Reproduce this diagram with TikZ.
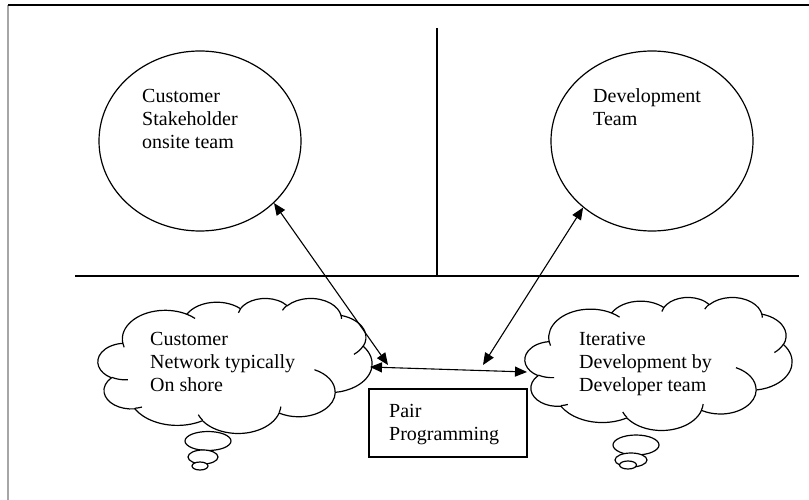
\documentclass[tikz,border=0pt]{standalone}
\usepackage{fontspec}
\setmainfont{Liberation Serif}
\usetikzlibrary{arrows.meta,shapes.geometric}

% One elliptic arc of the cloud outline: radii wR, hR, visual start angle
% and sweep (degrees, clockwise on screen); converted to parametric angles.
\newcommand\cloudarc[4]{arc[x radius=#1, y radius=#2,
  start angle={atan2(#1*sin(#3),#2*cos(#3))},
  delta angle={mod(atan2(#1*sin(#3+#4),#2*cos(#3+#4))-atan2(#1*sin(#3),#2*cos(#3))+720,360)}]}

% Cloud outline in a 43.2 x 43.2 box (y downwards)
\newcommand\cloudoutline{(3.900,14.370)
  \cloudarc{6.753}{9.190}{-190.4875}{123.7805}
  \cloudarc{5.333}{7.267}{-144.1024}{89.9452}
  \cloudarc{4.365}{5.945}{-145.8079}{99.7230}
  \cloudarc{4.857}{6.595}{-130.9861}{117.2417}
  \cloudarc{5.333}{7.273}{-78.7089}{109.0269}
  \cloudarc{6.775}{9.220}{-46.2673}{130.2690}
  \cloudarc{5.785}{7.867}{0.6250}{114.0333}
  \cloudarc{6.752}{9.215}{22.4516}{115.1726}
  \cloudarc{7.720}{10.543}{66.2426}{75.7110}
  \cloudarc{4.360}{5.918}{-274.9421}{146.7356}
  \cloudarc{4.345}{5.945}{-246.8285}{152.5189}
  -- cycle}

% Short creases where the puffs meet
\newcommand\cloudcreases{%
  (4.693,26.177) \cloudarc{4.345}{5.945}{86.7420}{26.4295}
  (6.928,34.899) \cloudarc{4.360}{5.918}{73.6105}{11.4475}
  (16.478,39.090) \cloudarc{6.752}{9.215}{137.6242}{14.0811}
  (28.827,34.751) \cloudarc{6.752}{9.215}{6.4533}{15.9984}
  (34.129,22.954) \cloudarc{5.785}{7.867}{-70.2924}{70.9174}
  (41.798,15.354) \cloudarc{5.333}{7.273}{30.3180}{27.7515}
  (38.324,5.426) \cloudarc{4.857}{6.595}{-13.7443}{14.8589}
  (29.078,3.952) \cloudarc{4.857}{6.595}{-149.1815}{18.1954}
  (22.141,4.720) \cloudarc{4.365}{5.945}{-163.4943}{17.6864}
  (14.000,5.192) \cloudarc{6.753}{9.190}{-66.7070}{12.3194}
  (4.127,15.789) \cloudarc{6.753}{9.190}{157.6544}{11.8582}}

% #1 top-left corner, #2 width/43.2, #3 height/43.2
\newcommand\drawcloud[3]{%
  \begin{scope}[shift={#1}, x=#2pt, y=-#3pt]
    \draw[stroke, fill=white] \cloudoutline;
    \draw[stroke] \cloudcreases;
  \end{scope}}

\begin{document}
\begin{tikzpicture}[x=1pt, y=-1pt,
  stroke/.style={line width=1.2pt, line join=round},
  label/.style={anchor=base west, inner sep=0pt, font=\fontsize{20}{23}\selectfont},
  team/.style={ellipse, draw, line width=1.2pt, fill=white, inner sep=0pt,
    minimum width=202pt, minimum height=180pt},
  bubble/.style={ellipse, draw, line width=1.2pt, fill=white, inner sep=0pt},
  link/.style={line width=1.1pt, {Triangle[length=12pt,width=10pt]}-{Triangle[length=12pt,width=10pt]}}]

\useasboundingbox (0,0) rectangle (809,500);
\fill[white] (0,0) rectangle (809,500);

% page frame
\draw[gray!70, line width=1.6pt] (8,5) -- (8,500);
\draw[line width=1.1pt] (8,5) -- (809,5);

% quadrant lines
\draw[stroke] (437,28) -- (437,276);
\draw[stroke] (75,276) -- (799,276);

% upper ellipses
\node[team] (cust) at (200,141) {};
\node[team] (dev) at (652,141) {};
\node[label] (custtxt) at (142,103) {\begin{tabular}[t]{@{}l@{}}Customer\\Stakeholder\\onsite team\end{tabular}};
\node[label] (devtxt) at (593,103) {\begin{tabular}[t]{@{}l@{}}Development\\Team\end{tabular}};

% thought clouds with their trailing bubbles
\drawcloud{(98,298)}{6.343}{3.125}
\node[bubble, minimum width=46pt, minimum height=19pt] (lb1) at (208,441) {};
\node[bubble, minimum width=30pt, minimum height=14pt] (lb2) at (203,457) {};
\node[bubble, minimum width=16pt, minimum height=8pt] (lb3) at (200,466) {};
\node[label] (custnet) at (150,345) {\begin{tabular}[t]{@{}l@{}}Customer\\Network typically\\On shore\end{tabular}};

\drawcloud{(525,297)}{6.181}{3.079}
\node[bubble, minimum width=46pt, minimum height=20pt] (rb1) at (636,445) {};
\node[bubble, minimum width=32pt, minimum height=14pt] (rb2) at (631,460) {};
\node[bubble, minimum width=17pt, minimum height=8pt] (rb3) at (628,465) {};
\node[label] (iter) at (579,345) {\begin{tabular}[t]{@{}l@{}}Iterative\\Development by\\Developer team\end{tabular}};

% pair programming box
\node[draw, line width=1.2pt, fill=white, minimum width=158pt, minimum height=68pt, inner sep=0pt] (pair) at (448,423) {};
\node[label] (pairtxt) at (389,417) {\begin{tabular}[t]{@{}l@{}}Pair\\Programming\end{tabular}};

% connector end points
\coordinate (custend) at (388,365);
\coordinate (devend) at (483,365);
\coordinate (netedge) at (370,367);
\coordinate (iteredge) at (527,372);

\draw[link] (cust.-40) -- (custend);
\draw[link] (dev.-136) -- (devend);
\draw[link] (netedge) -- (iteredge);

\end{tikzpicture}
\end{document}
